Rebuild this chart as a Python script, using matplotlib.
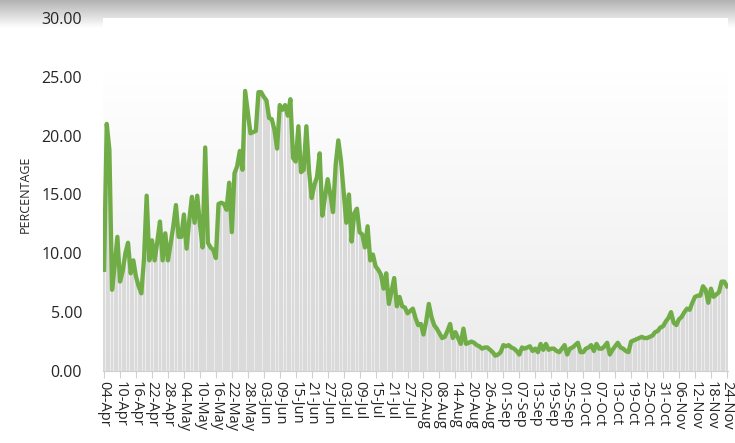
import numpy as np
import pandas as pd
import matplotlib
matplotlib.use("Agg")
import matplotlib.pyplot as plt

# daily percentage, 04-Apr .. 24-Nov
start_date = "2020-04-04"
pct = [
    8.6, 21.0, 18.8, 6.9, 9.0, 11.4, 7.6, 8.5, 10.0, 10.9,
    8.3, 9.4, 8.0, 7.2, 6.6, 9.5, 14.9, 9.4, 11.1, 9.4,
    11.0, 12.7, 9.4, 11.7, 9.4, 10.8, 12.3, 14.1, 11.4, 11.4,
    13.3, 10.4, 12.8, 14.8, 12.6, 14.9, 12.5, 10.5, 19.0, 10.9,
    10.5, 10.3, 9.6, 14.2, 14.3, 14.2, 13.7, 16.0, 11.8, 16.8,
    17.4, 18.7, 17.1, 23.8, 22.0, 20.2, 20.3, 20.4, 23.7, 23.7,
    23.3, 23.0, 21.5, 21.4, 20.5, 18.9, 22.6, 22.2, 22.6, 21.7,
    23.1, 18.1, 17.8, 20.8, 16.9, 17.1, 20.8, 17.0, 14.7, 15.8,
    16.5, 18.5, 13.2, 14.8, 16.3, 15.0, 13.5, 17.5, 19.6, 17.9,
    15.3, 12.6, 15.0, 11.0, 13.4, 13.8, 11.8, 11.6, 10.5, 12.3,
    9.4, 9.9, 8.9, 8.6, 8.2, 7.0, 8.3, 5.7, 6.8, 7.9,
    5.5, 6.3, 5.5, 5.4, 4.9, 5.1, 5.3, 4.5, 3.9, 4.0,
    3.1, 4.2, 5.7, 4.6, 3.9, 3.6, 3.2, 2.8, 2.9, 3.4,
    4.0, 2.8, 3.3, 2.8, 2.3, 3.6, 2.3, 2.4, 2.5, 2.4,
    2.2, 2.1, 1.9, 2.0, 2.0, 1.8, 1.6, 1.3, 1.4, 1.6,
    2.2, 2.1, 2.2, 2.0, 1.9, 1.7, 1.4, 2.0, 1.9, 2.0,
    2.1, 1.7, 1.9, 1.6, 2.3, 1.8, 2.3, 1.8, 1.9, 1.9,
    1.7, 1.6, 1.9, 2.2, 1.4, 1.9, 2.0, 2.2, 2.4, 1.6,
    1.6, 1.9, 2.0, 2.2, 1.7, 2.3, 1.9, 1.9, 2.1, 2.4,
    1.4, 1.8, 2.1, 2.4, 2.0, 1.9, 1.7, 1.6, 2.5, 2.6,
    2.7, 2.8, 2.9, 2.8, 2.8, 2.9, 3.0, 3.3, 3.4, 3.7,
    3.8, 4.2, 4.5, 5.0, 4.1, 3.9, 4.4, 4.6, 5.0, 5.3,
    5.2, 5.8, 6.3, 6.4, 6.4, 7.2, 6.9, 5.8, 7.0, 6.3,
    6.5, 6.7, 7.6, 7.6, 7.2,
]
tick_labels = [
    "04-Apr", "10-Apr", "16-Apr", "22-Apr", "28-Apr", "04-May", "10-May",
    "16-May", "22-May", "28-May", "03-Jun", "09-Jun", "15-Jun", "21-Jun",
    "27-Jun", "03-Jul", "09-Jul", "15-Jul", "21-Jul", "27-Jul", "02-Aug",
    "08-Aug", "14-Aug", "20-Aug", "26-Aug", "01-Sep", "07-Sep", "13-Sep",
    "19-Sep", "25-Sep", "01-Oct", "07-Oct", "13-Oct", "19-Oct", "25-Oct",
    "31-Oct", "06-Nov", "12-Nov", "18-Nov", "24-Nov",
]
y_ticks = [0, 5, 10, 15, 20, 25, 30]

dates = pd.date_range(start_date, periods=len(pct))
labels = dates.strftime("%d-%b")
x = np.arange(len(pct))
tick_pos = [int(np.where(labels == t)[0][0]) for t in tick_labels]

plt.rcParams['font.family'] = ['Open Sans', 'DejaVu Sans']

fig = plt.figure(figsize=(7.35, 4.43), dpi=100)
fig.patch.set_facecolor("white")

# grey shadow band at the very top
shadow = fig.add_axes([0, 1 - 28 / 443, 1, 28 / 443])
grad = np.linspace(0.70, 1.0, 50).reshape(-1, 1)
shadow.imshow(np.dstack([grad, grad, grad]), aspect="auto", extent=[0, 1, 0, 1])
shadow.axis("off")

ax = fig.add_axes([103 / 735, 72 / 443, 625 / 735, 353 / 443])
ax.set_xlim(-0.4, len(pct) - 0.6)
ax.set_ylim(0, 30)

# plot area background gradient, white to light grey
bg = np.linspace(1.0, 0.925, 200).reshape(-1, 1)
ax.imshow(np.dstack([bg, bg, bg]), aspect="auto", zorder=0,
          extent=[-0.4, len(pct) - 0.6, 0, 25.5])

ax.bar(x, pct, width=0.8, color="#dadada", edgecolor="none", zorder=1)
ax.plot(x, pct, color="#70ad47", lw=3.1, solid_joinstyle="round", zorder=3)

ax.set_yticks(y_ticks)
ax.set_yticklabels([f"{v:.2f}" for v in y_ticks], fontsize=11.5, color="#262626")
ax.set_xticks(tick_pos)
ax.set_xticklabels(tick_labels, rotation=270, fontsize=10.5, color="#262626")
ax.tick_params(axis="y", length=0, pad=15)
ax.tick_params(axis="x", length=5, color="#d0d0d0", pad=2)
ax.set_ylabel("PERCENTAGE", fontsize=9, color="#262626", labelpad=7)

for s in ["top", "right", "left"]:
    ax.spines[s].set_visible(False)
ax.spines["bottom"].set_color("#d0d0d0")
ax.set_facecolor("white")

fig.savefig("out.png", dpi=100)
